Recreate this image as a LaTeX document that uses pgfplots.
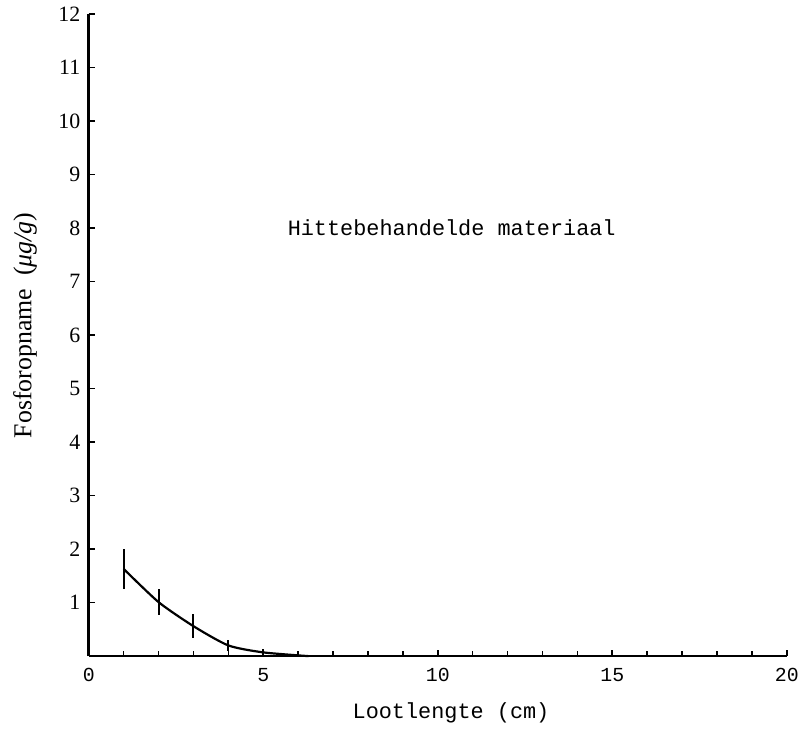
\documentclass[border=0pt]{standalone}
\usepackage{fontspec}
\setmainfont{Liberation Mono}
\newfontfamily\seriffont{Liberation Serif}
\usepackage{pgfplots}
\pgfplotsset{compat=1.18}

% x = loot length (cm), y = phosphorus uptake, err = half error bar
\pgfplotstableread{
x    y     err
1    1.63  0.37
2    1.01  0.25
3    0.56  0.23
4    0.20  0.10
5    0.07  0.06
6.3  0.00  0.00
}\phosdata

\begin{document}
\begin{tikzpicture}
\begin{axis}[
    width=700bp, height=644bp, scale only axis,
    xmin=0, xmax=20, ymin=0, ymax=12,
    axis x line*=bottom, axis y line*=left,
    axis line style={line width=2.6bp},
    xtick={0,5,...,20}, minor x tick num=4,
    ytick={1,...,12},
    tick style={black, line width=1.6bp},
    major tick length=6bp, minor tick length=5bp,
    /pgf/number format/assume math mode=true,
    xticklabel style={font=\fontsize{20}{24}\selectfont, yshift=-9bp},
    yticklabel style={font=\seriffont\fontsize{22}{26}\selectfont, xshift=-5bp},
    xlabel={Lootlengte (cm)},
    xlabel style={font=\fontsize{22}{26}\selectfont,
        at={(axis description cs:0.519,0)}, anchor=center, yshift=-57bp},
    ylabel={\seriffont Fosforopname\enspace(\textit{μg/g})},
    ylabel style={font=\fontsize{26}{30}\selectfont,
        at={(axis description cs:0,0.515)}, anchor=center, yshift=64bp},
    clip=false,
]
\addplot[black, line width=2.2bp, smooth, tension=0.4,
    error bars/.cd, y dir=both, y explicit, error mark=none,
    error bar style={line width=2bp}]
    table[x=x, y=y, y error=err] {\phosdata};
\node[font=\fontsize{22}{26}\selectfont] at (axis cs:10.4,8) {Hittebehandelde materiaal};
\end{axis}
\path (current axis.south west) ++(-89bp,-73bp) rectangle ++(802bp,731bp);
\end{tikzpicture}
\end{document}
